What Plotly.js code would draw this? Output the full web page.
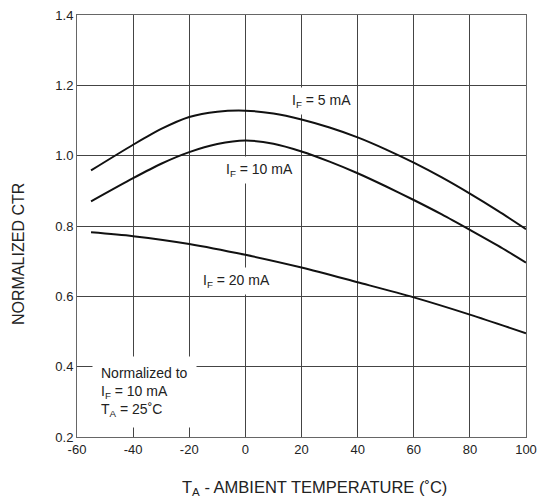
<!DOCTYPE html>
<html><head><meta charset="utf-8">
<script src="https://cdn.plot.ly/plotly-3.0.1.min.js"></script>
<style>html,body{margin:0;padding:0;background:#fff}#chart{width:544px;height:499px}</style>
</head><body><div id="chart"></div>
<script>
const temps = [-55, -40, -30, -20, -10, 0, 10, 20, 30, 40, 50, 60, 70, 80, 90, 100];
const ctr5mA  = [0.958, 1.031, 1.076, 1.110, 1.125, 1.128, 1.120, 1.103, 1.080, 1.052, 1.018, 0.980, 0.938, 0.892, 0.843, 0.791];
const ctr10mA = [0.870, 0.936, 0.977, 1.010, 1.033, 1.043, 1.034, 1.012, 0.983, 0.950, 0.913, 0.874, 0.833, 0.789, 0.744, 0.696];
const temps20 = [-55, -40, -20, 0, 20, 40, 60, 80, 100];
const ctr20mA = [0.782, 0.771, 0.749, 0.718, 0.682, 0.640, 0.597, 0.548, 0.495];
const xTicks = [-60, -40, -20, 0, 20, 40, 60, 80, 100];
const yTicks = [0.2, 0.4, 0.6, 0.8, 1.0, 1.2, 1.4];
const yTickText = ['0.2', '0.4', '0.6', '0.8', '1.0', '1.2', '1.4'];

const line = {color: '#111', width: 2, shape: 'spline', smoothing: 0.8};
const traces = [
  {x: temps, y: ctr5mA, mode: 'lines', line: line, hoverinfo: 'none'},
  {x: temps, y: ctr10mA, mode: 'lines', line: line, hoverinfo: 'none'},
  {x: temps20, y: ctr20mA, mode: 'lines', line: line, hoverinfo: 'none'}
];
const fam = 'Liberation Sans, Arial, sans-serif';
const ann = (x, y, text, extra) => Object.assign({x: x, y: y, xref: 'x', yref: 'y', text: text, showarrow: false,
  bgcolor: '#fff', font: {family: fam, size: 14, color: '#222'}, borderpad: 4}, extra || {});
const axisBase = {showgrid: true, gridcolor: '#444', gridwidth: 1, zeroline: false, showline: true,
  linecolor: '#666', linewidth: 1, mirror: true, ticks: '', ticklen: 0,
  tickfont: {family: fam, size: 13, color: '#222'}};
const layout = {
  width: 544, height: 499,
  margin: {l: 77, r: 18, t: 15, b: 62},
  paper_bgcolor: '#fff', plot_bgcolor: '#fff',
  showlegend: false,
  font: {family: fam, size: 13, color: '#222'},
  xaxis: Object.assign({range: [-60, 100], tickvals: xTicks, ticktext: xTicks.map(String)}, axisBase),
  yaxis: Object.assign({range: [0.2, 1.4], tickvals: yTicks, ticktext: yTickText}, axisBase),
  annotations: [
    ann(27, 1.155, 'I<sub>F</sub> = 5 mA'),
    ann(5, 0.960, 'I<sub>F</sub> = 10 mA'),
    ann(-3.3, 0.644, 'I<sub>F</sub> = 20 mA'),
    ann(-54.5, 0.328, 'Normalized to<br>I<sub>F</sub> = 10 mA<br>T<sub>A</sub> = 25˚C', {align: 'left', xanchor: 'left', yanchor: 'middle', borderpad: 8}),
    {xref: 'paper', yref: 'paper', x: 0.528, y: -0.121, yanchor: 'middle', showarrow: false,
     text: 'T<sub>A</sub> - AMBIENT TEMPERATURE (˚C)', font: {family: fam, size: 16.5, color: '#222'}},
    {xref: 'paper', yref: 'paper', x: -0.129, y: 0.434, xanchor: 'center', yanchor: 'middle', textangle: -90, showarrow: false,
     text: 'NORMALIZED CTR', font: {family: fam, size: 16, color: '#222'}}
  ]
};
Plotly.newPlot('chart', traces, layout, {displayModeBar: false, staticPlot: true});
</script></body></html>
